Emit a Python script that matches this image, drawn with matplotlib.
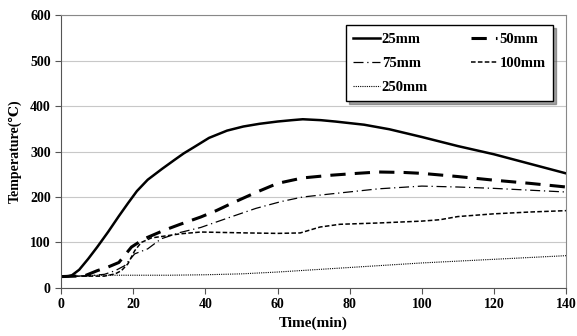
import matplotlib.pyplot as plt

plt.rcParams['font.family'] = ['Liberation Serif', 'DejaVu Serif']
plt.rcParams['font.weight'] = 'bold'

# readings
t25 = [0, 2, 3, 5, 7.5, 10, 13, 16, 18.5, 21, 24, 28, 31.5, 34, 36.7, 41, 46, 50.5,
       55, 60, 64, 67, 72, 76, 84, 91, 100, 110, 120, 130, 140]
v25 = [25, 26, 28, 40, 64, 90, 123, 158, 186, 213, 238, 262, 282, 296, 309, 330, 346,
       355, 361, 366, 369, 371, 369, 366, 359, 349, 332, 312, 294, 273, 252]

t50 = [0, 4, 6.6, 10, 13, 16, 19.5, 23, 28.6, 33, 38.7, 43, 47, 54, 60, 67, 75, 82,
       88, 95, 100, 110, 120, 130, 140]
v50 = [25, 26, 27, 38, 46, 56, 90, 108, 127, 140, 156, 170, 185, 210, 230, 242, 248,
       252, 255, 254, 252, 245, 237, 230, 222]

t75 = [0, 4, 8, 12, 15, 17.6, 20.4, 24, 27.7, 33, 38.7, 47, 54, 61, 67, 75, 88, 100,
       110, 120, 130, 140]
v75 = [25, 26, 27, 30, 38, 49, 75, 86, 108, 122, 133, 156, 175, 190, 200, 207, 218,
       224, 222, 219, 215, 211]

t100 = [0, 4, 8, 12, 15, 16.7, 18.5, 20.4, 22.2, 25, 29.5, 33, 38.7, 51.5, 60, 66.3,
        71.8, 77.3, 88.4, 100, 105, 110, 115, 120, 130, 140]
v100 = [25, 26, 26, 26, 31, 38, 53, 82, 100, 110, 115, 119, 123, 121, 120, 121, 134,
        140, 143, 147, 150, 157, 160, 163, 167, 170]

t250 = [0, 5, 10, 20, 30, 40, 50, 60, 70, 80, 90, 100, 110, 120, 130, 140]
v250 = [25, 26, 28, 28, 28, 29, 31, 35, 40, 45, 50, 55, 59, 63, 67, 71]

fig = plt.figure(figsize=(5.77, 3.36), dpi=100)
ax = fig.add_axes([0.106, 0.143, 0.875, 0.812])

l25, = ax.plot(t25, v25, color='black', lw=1.8, ls='-', label='25mm')
l50, = ax.plot(t50, v50, color='black', lw=2.2, ls=(0, (5, 3)), label='50mm')
l75, = ax.plot(t75, v75, color='black', lw=0.9, ls=(0, (8, 3, 1, 3)), label='75mm')
l100, = ax.plot(t100, v100, color='black', lw=1.1, ls=(0, (3, 1.5)), label='100mm')
l250, = ax.plot(t250, v250, color='black', lw=0.8, ls=(0, (1, 1)), label='250mm')

ax.set_xlim(0, 140)
ax.set_ylim(0, 600)
ax.set_xticks(range(0, 141, 20))
ax.set_yticks(range(0, 601, 100))
ax.grid(axis='y', color='#c8c8c8', lw=0.8)
ax.set_axisbelow(True)
for s in ['top', 'right']:
    ax.spines[s].set_color('#888888')
for s in ['left', 'bottom']:
    ax.spines[s].set_color('#555555')
ax.tick_params(direction='out', length=4, labelsize=10, color='#555555')
for lab in ax.get_xticklabels() + ax.get_yticklabels():
    lab.set_fontweight('bold')

ax.set_xlabel('Time(min)', fontsize=11, fontweight='bold', labelpad=4)
ax.set_ylabel('Temperature(℃)', fontsize=10, fontweight='bold', labelpad=6)

# legend filled row by row like the original
handles = [l25, l75, l250, l50, l100]
leg = ax.legend(handles, [h.get_label() for h in handles], ncol=2,
                loc='upper right', bbox_to_anchor=(0.974, 0.963), borderaxespad=0,
                frameon=True, fancybox=False, shadow=True, edgecolor='black',
                prop={'weight': 'bold', 'size': 10.5}, handlelength=1.8,
                handletextpad=0.15, columnspacing=2.95, labelspacing=0.75,
                borderpad=0.5)
leg.get_frame().set_linewidth(1.0)

fig.savefig('out.png', dpi=100)
